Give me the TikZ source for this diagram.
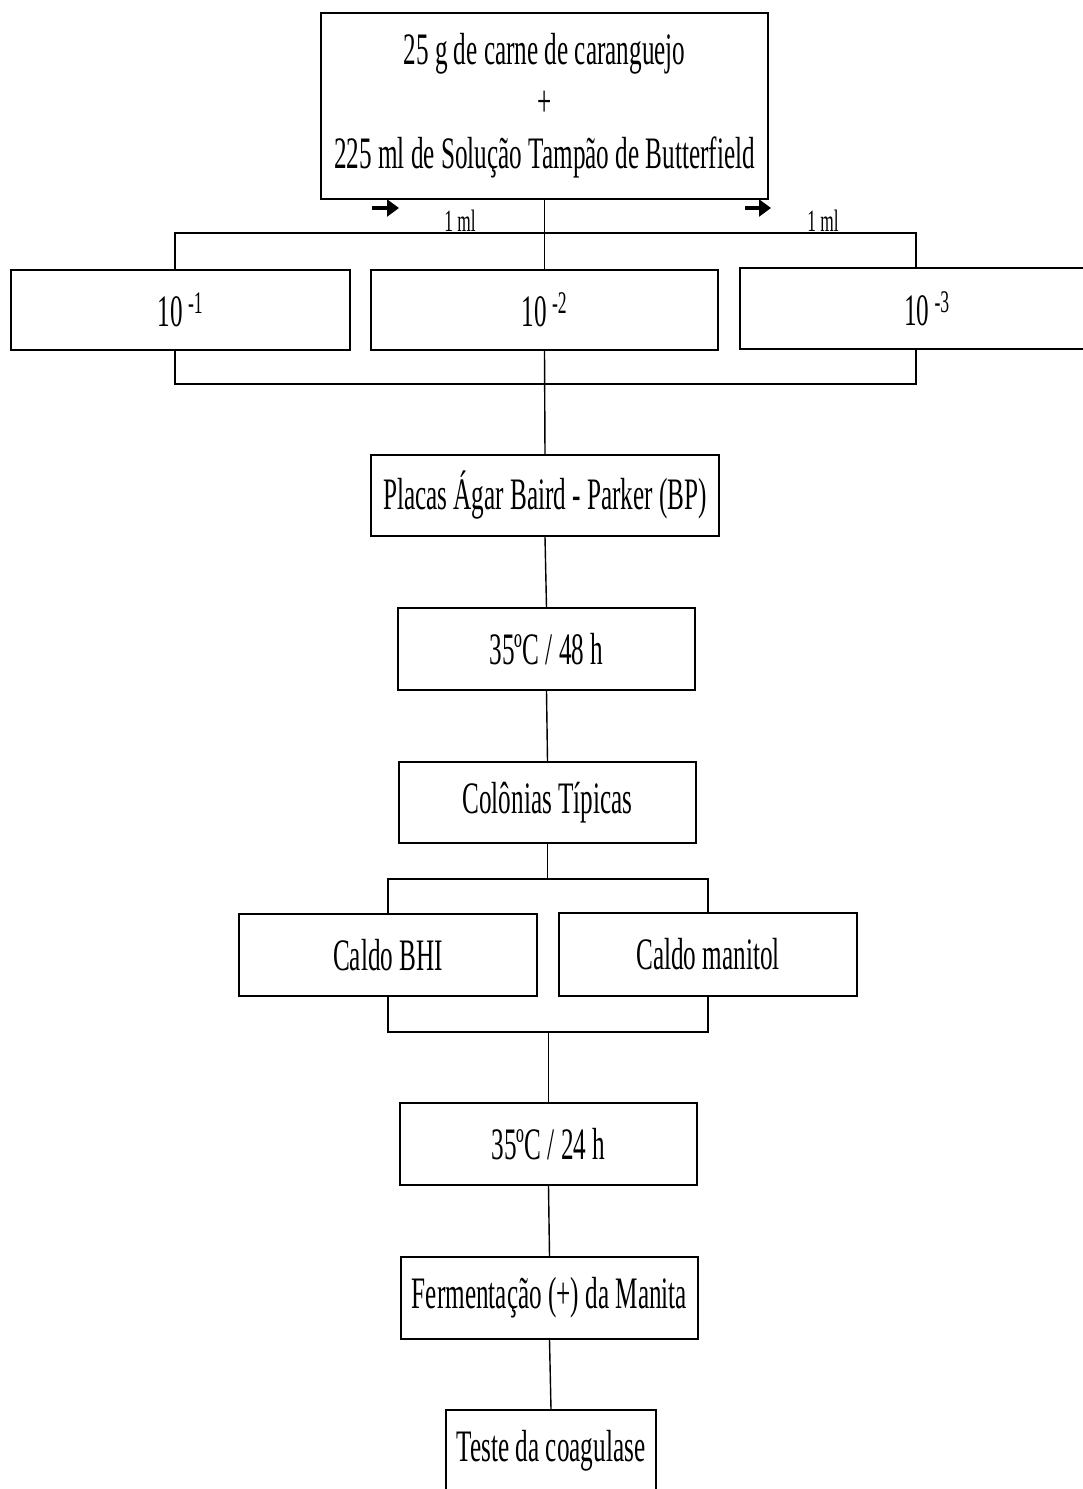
\documentclass[tikz,border=0pt]{standalone}
\usepackage{fontspec}
\setmainfont{Liberation Serif}[FakeStretch=0.56]
\usepackage{tikz}
\usetikzlibrary{positioning}
\usetikzlibrary{arrows.meta}
\usetikzlibrary{calc}

\begin{document}
\begin{tikzpicture}[x=0.025cm, y=-0.025cm,
				etapa/.style={rectangle, draw, line width=1.3pt, inner sep=0pt,
						font=\fontsize{32}{37}\selectfont, text centered},
				ligacao/.style={draw, line width=1pt},
				seta/.style={line width=2.8pt, -{Triangle[length=0.3cm, width=0.42cm]}},
				rotulo/.style={font=\fontsize{22}{24}\selectfont, inner sep=0pt}
			]

			% page frame
			\useasboundingbox (0,0) rectangle (1083,1489);
			\clip (0,0) rectangle (1083,1489);

			% sample
			\node[etapa, minimum width=11.175cm, minimum height=4.65cm, align=center] (amostra) at (544.5,106)
				{\rule{0pt}{0.3cm}25 g de carne de caranguejo\\+\\225 ml de Solução Tampão de Butterfield};

			% dilutions
			\node[etapa, minimum width=8.475cm, minimum height=2cm] (dil1) at (180.5,310) {10\textsuperscript{\,-1}};
			\node[etapa, minimum width=8.675cm, minimum height=2cm] (dil2) at (544.5,310) {10\textsuperscript{\,-2}};
			\node[etapa, minimum width=9.35cm, minimum height=2.025cm] (dil3) at (927,308.5) {10\textsuperscript{\,-3}};

			% transfer marks
			\coordinate (s1a) at (372,208);
			\coordinate (s1b) at (399,208);
			\coordinate (s2a) at (745,208);
			\coordinate (s2b) at (771,208);
			\draw[seta] (s1a) -- (s1b);
			\draw[seta] (s2a) -- (s2b);
			\node[rotulo] (ml1) at (460,221) {1 ml};
			\node[rotulo] (ml2) at (823,221) {1 ml};

			% plating and incubation
			\node[etapa, minimum width=8.7cm, minimum height=2.025cm] (placas) at (545,495.5) {Placas Ágar Baird - Parker (BP)};
			\node[etapa, minimum width=7.425cm, minimum height=2.05cm] (inc48) at (546.5,649) {35ºC / 48 h};
			\node[etapa, minimum width=7.425cm, minimum height=2.025cm] (colonias) at (547.5,802.5) {Colônias Típicas};

			% broths
			\node[etapa, minimum width=7.45cm, minimum height=2.05cm] (bhi) at (388,955) {Caldo BHI};
			\node[etapa, minimum width=7.45cm, minimum height=2.075cm] (manitol) at (708,954.5) {Caldo manitol};

			% confirmation
			\node[etapa, minimum width=7.425cm, minimum height=2.05cm] (inc24) at (548.5,1144) {35ºC / 24 h};
			\node[etapa, minimum width=7.425cm, minimum height=2.05cm] (ferm) at (549.5,1298) {Fermentação (+) da Manita};
			\node[etapa, minimum width=5.25cm, minimum height=2.05cm] (coag) at (551,1451) {Teste da coagulase};

			% junction points
			\coordinate (d1) at (175,233);
			\coordinate (d3) at (916,233);
			\coordinate (e1) at (175,384);
			\coordinate (e3) at (916,384);
			\coordinate (c1) at (388,879);
			\coordinate (c2) at (708,879);
			\coordinate (f1) at (388,1032);
			\coordinate (f2) at (708,1032);

			% Lines
			\draw[ligacao] (amostra.south) -- (dil2.north);
			\draw[ligacao] (d1 |- dil1.north) -- (d1) -- (d3) -- (d3 |- dil3.north);
			\draw[ligacao] (e1 |- dil1.south) -- (e1) -- (e3) -- (e3 |- dil3.south);
			\draw[ligacao] (dil2.south) -- (placas.north);
			\draw[ligacao] (placas.south) -- (inc48.north);
			\draw[ligacao] (inc48.south) -- (colonias.north);
			\draw[ligacao] (colonias.south) -- (colonias.south |- c1);
			\draw[ligacao] (bhi.north) -- (c1) -- (c2) -- (manitol.north);
			\draw[ligacao] (bhi.south) -- (f1) -- (f2) -- (manitol.south);
			\draw[ligacao] (inc24.north |- f1) -- (inc24.north);
			\draw[ligacao] (inc24.south) -- (ferm.north);
			\draw[ligacao] (ferm.south) -- (coag.north);

		\end{tikzpicture}
\end{document}
